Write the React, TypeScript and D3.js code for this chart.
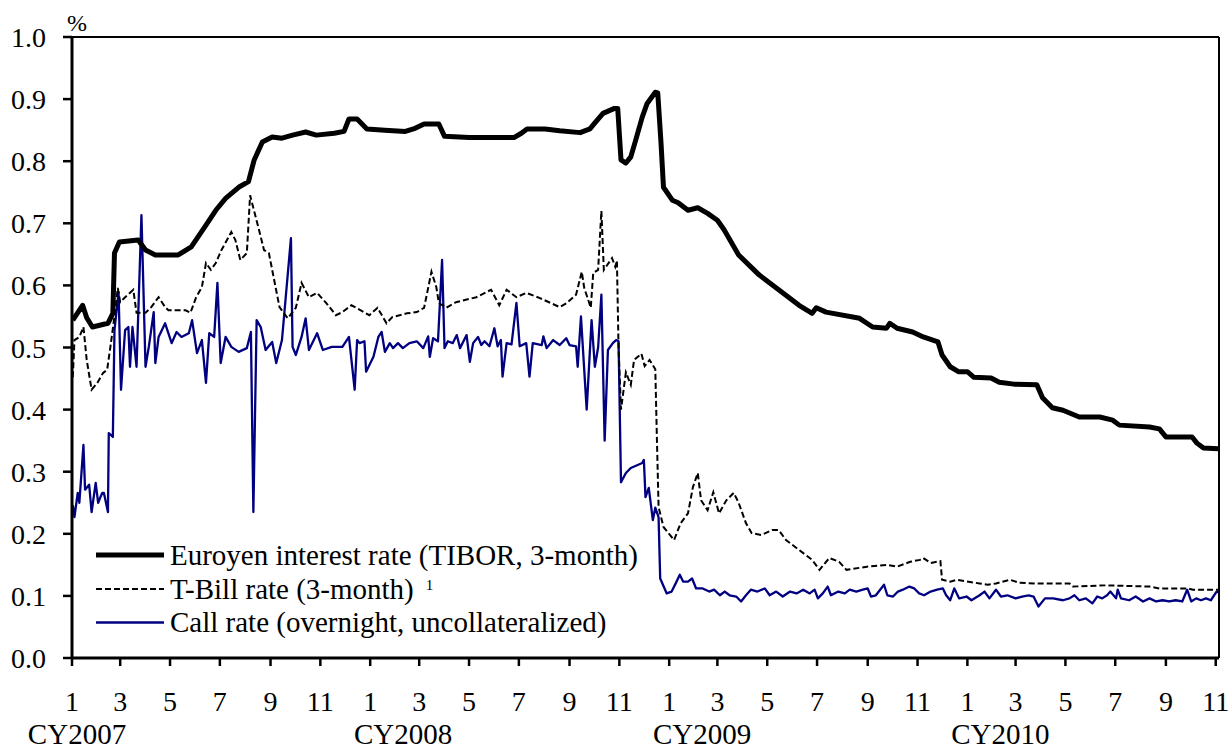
import * as d3 from "d3";

type Pt = [string, number];

// Euroyen TIBOR 3-month, %
const tibor: Pt[] = [
    ["2007-01-02", 0.544], ["2007-01-14", 0.568], ["2007-01-19", 0.548], ["2007-01-26", 0.533],
    ["2007-02-14", 0.539], ["2007-02-20", 0.555], ["2007-02-22", 0.652], ["2007-02-28", 0.67],
    ["2007-03-23", 0.673], ["2007-04-01", 0.657], ["2007-04-13", 0.649], ["2007-05-11", 0.649],
    ["2007-05-27", 0.662], ["2007-06-14", 0.697], ["2007-06-26", 0.721], ["2007-07-08", 0.74],
    ["2007-07-24", 0.758], ["2007-08-05", 0.767], ["2007-08-12", 0.802], ["2007-08-22", 0.831],
    ["2007-09-03", 0.839], ["2007-09-15", 0.837], ["2007-09-28", 0.842], ["2007-10-14", 0.847],
    ["2007-10-27", 0.842], ["2007-11-18", 0.845], ["2007-11-30", 0.848], ["2007-12-06", 0.868],
    ["2007-12-16", 0.868], ["2007-12-28", 0.852], ["2008-01-19", 0.85], ["2008-02-13", 0.848],
    ["2008-02-25", 0.853], ["2008-03-07", 0.86], ["2008-03-25", 0.86], ["2008-04-01", 0.84],
    ["2008-05-01", 0.838], ["2008-06-25", 0.838], ["2008-07-04", 0.845], ["2008-07-11", 0.852],
    ["2008-08-02", 0.852], ["2008-08-20", 0.849], ["2008-09-14", 0.846], ["2008-09-26", 0.852],
    ["2008-10-01", 0.86], ["2008-10-12", 0.877], ["2008-10-26", 0.885], ["2008-10-30", 0.885],
    ["2008-11-03", 0.802], ["2008-11-09", 0.797], ["2008-11-15", 0.807], ["2008-11-21", 0.834],
    ["2008-11-29", 0.871], ["2008-12-05", 0.893], ["2008-12-15", 0.911], ["2008-12-18", 0.91],
    ["2008-12-22", 0.829], ["2008-12-25", 0.758], ["2009-01-05", 0.737], ["2009-01-12", 0.733],
    ["2009-01-24", 0.721], ["2009-02-05", 0.725], ["2009-02-17", 0.716], ["2009-03-01", 0.705],
    ["2009-03-09", 0.69], ["2009-03-27", 0.649], ["2009-04-21", 0.617], ["2009-05-15", 0.593],
    ["2009-06-09", 0.568], ["2009-06-25", 0.555], ["2009-06-30", 0.564], ["2009-07-12", 0.557],
    ["2009-08-22", 0.547], ["2009-09-07", 0.533], ["2009-09-24", 0.531], ["2009-09-28", 0.539],
    ["2009-10-07", 0.531], ["2009-10-26", 0.525], ["2009-11-08", 0.517], ["2009-11-26", 0.509],
    ["2009-12-01", 0.488], ["2009-12-11", 0.469], ["2009-12-21", 0.461], ["2010-01-01", 0.461],
    ["2010-01-09", 0.452], ["2010-01-30", 0.451], ["2010-02-09", 0.444], ["2010-02-27", 0.441],
    ["2010-03-27", 0.44], ["2010-04-03", 0.419], ["2010-04-15", 0.403], ["2010-04-28", 0.399],
    ["2010-05-18", 0.388], ["2010-06-12", 0.388], ["2010-06-28", 0.383], ["2010-07-06", 0.375],
    ["2010-08-12", 0.372], ["2010-08-24", 0.369], ["2010-09-01", 0.356], ["2010-10-03", 0.356],
    ["2010-10-09", 0.346], ["2010-10-17", 0.338], ["2010-11-04", 0.337],
];

// T-Bill 3-month, %
const tbill: Pt[] = [
    ["2007-01-02", 0.452], ["2007-01-04", 0.512], ["2007-01-10", 0.517], ["2007-01-15", 0.533],
    ["2007-01-19", 0.48], ["2007-01-25", 0.432], ["2007-02-01", 0.443], ["2007-02-08", 0.459],
    ["2007-02-13", 0.464], ["2007-02-17", 0.501], ["2007-02-23", 0.56], ["2007-02-26", 0.596],
    ["2007-03-01", 0.573], ["2007-03-07", 0.581], ["2007-03-17", 0.593], ["2007-03-21", 0.556],
    ["2007-04-01", 0.556], ["2007-04-08", 0.565], ["2007-04-17", 0.581], ["2007-04-25", 0.565],
    ["2007-04-29", 0.56], ["2007-05-20", 0.56], ["2007-05-26", 0.556], ["2007-06-02", 0.581],
    ["2007-06-09", 0.597], ["2007-06-14", 0.636], ["2007-06-20", 0.625], ["2007-06-26", 0.636],
    ["2007-07-03", 0.657], ["2007-07-15", 0.686], ["2007-07-20", 0.673], ["2007-07-26", 0.641],
    ["2007-08-03", 0.652], ["2007-08-07", 0.745], ["2007-08-18", 0.689], ["2007-08-24", 0.657],
    ["2007-08-30", 0.652], ["2007-09-12", 0.565], ["2007-09-22", 0.547], ["2007-10-02", 0.564],
    ["2007-10-09", 0.604], ["2007-10-18", 0.581], ["2007-10-28", 0.588], ["2007-11-08", 0.572],
    ["2007-11-20", 0.552], ["2007-11-28", 0.557], ["2007-12-09", 0.568], ["2007-12-15", 0.564],
    ["2007-12-31", 0.552], ["2008-01-10", 0.564], ["2008-01-21", 0.539], ["2008-01-28", 0.549],
    ["2008-02-15", 0.555], ["2008-02-27", 0.557], ["2008-03-07", 0.564], ["2008-03-16", 0.622],
    ["2008-03-22", 0.597], ["2008-03-25", 0.572], ["2008-04-03", 0.564], ["2008-04-15", 0.573],
    ["2008-05-10", 0.581], ["2008-05-28", 0.593], ["2008-06-07", 0.568], ["2008-06-16", 0.593],
    ["2008-06-28", 0.581], ["2008-07-10", 0.588], ["2008-07-26", 0.58], ["2008-08-20", 0.565],
    ["2008-08-28", 0.571], ["2008-09-09", 0.585], ["2008-09-16", 0.622], ["2008-09-19", 0.596],
    ["2008-09-27", 0.564], ["2008-09-30", 0.62], ["2008-10-06", 0.625], ["2008-10-10", 0.72],
    ["2008-10-13", 0.625], ["2008-10-23", 0.644], ["2008-10-27", 0.63], ["2008-10-29", 0.64],
    ["2008-10-31", 0.5], ["2008-11-03", 0.4], ["2008-11-09", 0.46], ["2008-11-15", 0.44],
    ["2008-11-19", 0.48], ["2008-11-28", 0.49], ["2008-12-02", 0.47], ["2008-12-08", 0.48],
    ["2008-12-15", 0.465], ["2008-12-17", 0.351], ["2008-12-19", 0.243], ["2008-12-25", 0.211],
    ["2009-01-07", 0.19], ["2009-01-15", 0.217], ["2009-01-24", 0.233], ["2009-01-30", 0.275],
    ["2009-02-05", 0.298], ["2009-02-09", 0.254], ["2009-02-17", 0.238], ["2009-02-24", 0.267],
    ["2009-03-03", 0.233], ["2009-03-12", 0.254], ["2009-03-21", 0.266], ["2009-03-27", 0.25],
    ["2009-04-05", 0.217], ["2009-04-12", 0.201], ["2009-04-24", 0.198], ["2009-05-07", 0.206],
    ["2009-05-15", 0.206], ["2009-05-24", 0.19], ["2009-06-09", 0.174], ["2009-06-25", 0.158],
    ["2009-07-04", 0.142], ["2009-07-16", 0.161], ["2009-07-28", 0.155], ["2009-08-06", 0.142],
    ["2009-08-31", 0.147], ["2009-09-24", 0.15], ["2009-10-07", 0.147], ["2009-10-23", 0.155],
    ["2009-11-04", 0.158], ["2009-11-08", 0.161], ["2009-11-17", 0.153], ["2009-11-29", 0.156],
    ["2009-12-01", 0.126], ["2009-12-11", 0.123], ["2009-12-19", 0.126], ["2010-01-16", 0.12],
    ["2010-01-26", 0.118], ["2010-02-05", 0.12], ["2010-02-22", 0.126], ["2010-03-06", 0.121],
    ["2010-03-25", 0.12], ["2010-05-06", 0.12], ["2010-05-10", 0.115], ["2010-06-20", 0.117],
    ["2010-08-12", 0.115], ["2010-08-24", 0.112], ["2010-09-28", 0.112], ["2010-10-04", 0.11],
    ["2010-11-04", 0.11],
];

// Call rate, overnight uncollateralized, %
const callRate: Pt[] = [
    ["2007-01-02", 0.246], ["2007-01-04", 0.227], ["2007-01-08", 0.266], ["2007-01-10", 0.25],
    ["2007-01-15", 0.343], ["2007-01-17", 0.271], ["2007-01-22", 0.279], ["2007-01-25", 0.235],
    ["2007-01-30", 0.282], ["2007-02-02", 0.25], ["2007-02-07", 0.266], ["2007-02-09", 0.266],
    ["2007-02-14", 0.235], ["2007-02-15", 0.362], ["2007-02-20", 0.356], ["2007-02-22", 0.528],
    ["2007-02-27", 0.589], ["2007-03-02", 0.432], ["2007-03-07", 0.528], ["2007-03-11", 0.533],
    ["2007-03-13", 0.469], ["2007-03-16", 0.533], ["2007-03-21", 0.469], ["2007-03-27", 0.713],
    ["2007-04-01", 0.469], ["2007-04-05", 0.501], ["2007-04-11", 0.557], ["2007-04-13", 0.475],
    ["2007-04-17", 0.517], ["2007-04-25", 0.539], ["2007-05-03", 0.507], ["2007-05-09", 0.525],
    ["2007-05-15", 0.517], ["2007-05-24", 0.523], ["2007-05-28", 0.544], ["2007-06-03", 0.491],
    ["2007-06-09", 0.512], ["2007-06-14", 0.443], ["2007-06-18", 0.523], ["2007-06-24", 0.517],
    ["2007-06-28", 0.604], ["2007-07-02", 0.475], ["2007-07-08", 0.517], ["2007-07-15", 0.501],
    ["2007-07-24", 0.493], ["2007-08-03", 0.499], ["2007-08-08", 0.525], ["2007-08-11", 0.235],
    ["2007-08-15", 0.544], ["2007-08-20", 0.533], ["2007-08-26", 0.496], ["2007-09-03", 0.509],
    ["2007-09-08", 0.475], ["2007-09-15", 0.512], ["2007-09-26", 0.676], ["2007-09-28", 0.501],
    ["2007-10-02", 0.488], ["2007-10-09", 0.517], ["2007-10-14", 0.547], ["2007-10-18", 0.496],
    ["2007-10-28", 0.523], ["2007-11-04", 0.496], ["2007-11-15", 0.501], ["2007-11-28", 0.501],
    ["2007-12-06", 0.517], ["2007-12-13", 0.432], ["2007-12-16", 0.512], ["2007-12-19", 0.507],
    ["2007-12-25", 0.51], ["2007-12-27", 0.461], ["2008-01-05", 0.485], ["2008-01-11", 0.517],
    ["2008-01-15", 0.525], ["2008-01-19", 0.493], ["2008-01-25", 0.507], ["2008-01-29", 0.499],
    ["2008-02-04", 0.507], ["2008-02-10", 0.499], ["2008-02-18", 0.507], ["2008-02-27", 0.51],
    ["2008-03-06", 0.499], ["2008-03-12", 0.518], ["2008-03-14", 0.485], ["2008-03-18", 0.515],
    ["2008-03-24", 0.51], ["2008-03-29", 0.641], ["2008-04-01", 0.499], ["2008-04-05", 0.51],
    ["2008-04-11", 0.507], ["2008-04-16", 0.52], ["2008-04-20", 0.499], ["2008-04-28", 0.52],
    ["2008-05-02", 0.477], ["2008-05-06", 0.507], ["2008-05-12", 0.517], ["2008-05-16", 0.504],
    ["2008-05-20", 0.51], ["2008-05-26", 0.502], ["2008-06-01", 0.531], ["2008-06-05", 0.502],
    ["2008-06-09", 0.512], ["2008-06-11", 0.453], ["2008-06-16", 0.507], ["2008-06-22", 0.505],
    ["2008-06-28", 0.572], ["2008-07-02", 0.502], ["2008-07-10", 0.507], ["2008-07-14", 0.453],
    ["2008-07-18", 0.507], ["2008-07-29", 0.504], ["2008-07-31", 0.518], ["2008-08-04", 0.499],
    ["2008-08-12", 0.512], ["2008-08-20", 0.504], ["2008-08-28", 0.515], ["2008-09-01", 0.504],
    ["2008-09-09", 0.502], ["2008-09-11", 0.469], ["2008-09-15", 0.55], ["2008-09-22", 0.4],
    ["2008-09-28", 0.544], ["2008-10-02", 0.469], ["2008-10-06", 0.5], ["2008-10-10", 0.585],
    ["2008-10-14", 0.35], ["2008-10-18", 0.496], ["2008-10-24", 0.507], ["2008-10-28", 0.512],
    ["2008-10-31", 0.51], ["2008-11-03", 0.283], ["2008-11-09", 0.298], ["2008-11-15", 0.306],
    ["2008-11-29", 0.314], ["2008-12-01", 0.319], ["2008-12-03", 0.259], ["2008-12-07", 0.274],
    ["2008-12-12", 0.222], ["2008-12-15", 0.242], ["2008-12-19", 0.227], ["2008-12-21", 0.128],
    ["2008-12-29", 0.104], ["2009-01-04", 0.107], ["2009-01-10", 0.123], ["2009-01-14", 0.134],
    ["2009-01-18", 0.123], ["2009-01-24", 0.123], ["2009-01-29", 0.128], ["2009-02-03", 0.112],
    ["2009-02-11", 0.112], ["2009-02-19", 0.107], ["2009-02-25", 0.11], ["2009-03-04", 0.101],
    ["2009-03-10", 0.107], ["2009-03-16", 0.101], ["2009-03-24", 0.099], ["2009-03-30", 0.091],
    ["2009-04-05", 0.101], ["2009-04-11", 0.11], ["2009-04-19", 0.107], ["2009-04-28", 0.112],
    ["2009-05-04", 0.101], ["2009-05-12", 0.107], ["2009-05-20", 0.099], ["2009-05-29", 0.107],
    ["2009-06-06", 0.104], ["2009-06-14", 0.11], ["2009-06-22", 0.104], ["2009-06-28", 0.11],
    ["2009-07-02", 0.096], ["2009-07-08", 0.104], ["2009-07-14", 0.115], ["2009-07-18", 0.101],
    ["2009-07-27", 0.107], ["2009-08-04", 0.104], ["2009-08-10", 0.11], ["2009-08-18", 0.107],
    ["2009-08-26", 0.11], ["2009-09-01", 0.112], ["2009-09-05", 0.099], ["2009-09-11", 0.101],
    ["2009-09-21", 0.118], ["2009-09-25", 0.101], ["2009-10-02", 0.099], ["2009-10-08", 0.107],
    ["2009-10-14", 0.11], ["2009-10-22", 0.115], ["2009-10-28", 0.112], ["2009-11-03", 0.104],
    ["2009-11-09", 0.101], ["2009-11-17", 0.107], ["2009-11-25", 0.11], ["2009-12-02", 0.112],
    ["2009-12-06", 0.101], ["2009-12-11", 0.093], ["2009-12-16", 0.112], ["2009-12-22", 0.096],
    ["2009-12-31", 0.099], ["2010-01-06", 0.093], ["2010-01-16", 0.101], ["2010-01-22", 0.107],
    ["2010-01-28", 0.096], ["2010-02-05", 0.11], ["2010-02-11", 0.099], ["2010-02-19", 0.101],
    ["2010-03-01", 0.096], ["2010-03-09", 0.099], ["2010-03-17", 0.101], ["2010-03-23", 0.099],
    ["2010-03-29", 0.083], ["2010-04-06", 0.096], ["2010-04-16", 0.096], ["2010-04-28", 0.093],
    ["2010-05-06", 0.096], ["2010-05-12", 0.101], ["2010-05-18", 0.093], ["2010-05-26", 0.096],
    ["2010-06-03", 0.088], ["2010-06-09", 0.099], ["2010-06-15", 0.096], ["2010-06-21", 0.101],
    ["2010-06-25", 0.107], ["2010-07-02", 0.096], ["2010-07-04", 0.11], ["2010-07-08", 0.096],
    ["2010-07-18", 0.093], ["2010-07-26", 0.099], ["2010-08-04", 0.091], ["2010-08-12", 0.096],
    ["2010-08-20", 0.091], ["2010-08-28", 0.093], ["2010-09-05", 0.091], ["2010-09-13", 0.093],
    ["2010-09-21", 0.091], ["2010-09-27", 0.11], ["2010-10-02", 0.091], ["2010-10-08", 0.096],
    ["2010-10-14", 0.093], ["2010-10-20", 0.096], ["2010-10-26", 0.093], ["2010-11-02", 0.107],
    ["2010-11-04", 0.106],
];

const yTicks = [0, 0.1, 0.2, 0.3, 0.4, 0.5, 0.6, 0.7, 0.8, 0.9, 1.0];
const years = [2007, 2008, 2009, 2010];
const legendLabels = [
    "Euroyen interest rate (TIBOR, 3-month)",
    "T-Bill rate (3-month)",
    "Call rate (overnight, uncollateralized)",
];

const W = 1230;
const H = 749;
const left = 72;
const right = 1219;
const top = 37;
const bottom = 658;
const font = "'Liberation Serif', 'Times New Roman', serif";
const navy = "#000080";

const parse = d3.timeParse("%Y-%m-%d");

export default function App() {
    const x = d3.scaleTime()
        .domain([new Date(2007, 0, 1), new Date(2010, 10, 5)])
        .range([left, right]);
    const y = d3.scaleLinear().domain([0, 1]).range([bottom, top]);
    const line = d3.line<Pt>()
        .x(d => x(parse(d[0]) as Date))
        .y(d => y(d[1]));
    const monthTicks = d3.timeMonth.every(2)!.range(new Date(2007, 0, 1), new Date(2010, 10, 2));

    const legendY = [555, 589, 622.5];
    const textStyle = {fontFamily: font};

    return (
        <svg width={W} height={H} style={{position: "absolute", left: 0, top: 0, background: "#fff", fontFamily: font}}>
            <rect x={0} y={0} width={W} height={H} fill="#fff"/>
            {/* series */}
            <path d={line(callRate) ?? ""} fill="none" stroke={navy} strokeWidth={2.3} strokeLinejoin="round"/>
            <path d={line(tbill) ?? ""} fill="none" stroke="#000" strokeWidth={2} strokeDasharray="6,3"/>
            <path d={line(tibor) ?? ""} fill="none" stroke="#000" strokeWidth={5} strokeLinejoin="round"/>

            {/* frame */}
            <line x1={left} x2={right} y1={top} y2={top} stroke="#000" strokeWidth={2}/>
            <line x1={right} x2={right} y1={top} y2={bottom} stroke="#000" strokeWidth={2}/>
            <line x1={left} x2={left} y1={top - 1} y2={bottom} stroke="#000" strokeWidth={3}/>
            <line x1={left} x2={right} y1={bottom} y2={bottom} stroke="#000" strokeWidth={3}/>

            {/* y axis */}
            {yTicks.map(t => (
                <g key={t}>
                    <line x1={left - 9} x2={left} y1={y(t)} y2={y(t)} stroke="#000" strokeWidth={2.5}/>
                    <text x={46} y={y(t) + 10} fontSize={28} textAnchor="end" style={textStyle}>{t.toFixed(1)}</text>
                </g>
            ))}
            <text x={67} y={31} fontSize={24} style={textStyle}>%</text>

            {/* x axis */}
            {monthTicks.map((d, i) => (
                <g key={i}>
                    <line x1={x(d)} x2={x(d)} y1={bottom} y2={bottom + 8} stroke="#000" strokeWidth={2.5}/>
                    <text x={x(d)} y={711} fontSize={28} textAnchor="middle" style={textStyle}>{d.getMonth() + 1}</text>
                </g>
            ))}
            {years.map((yr, i) => (
                <text key={yr} x={i === 0 ? 77 : x(new Date(yr, 0, 1)) + 33} y={744} fontSize={29}
                      textAnchor="middle" style={textStyle}>{"CY" + yr}</text>
            ))}

            {/* legend */}
            <line x1={96} x2={164} y1={legendY[0]} y2={legendY[0]} stroke="#000" strokeWidth={5}/>
            <line x1={96} x2={164} y1={legendY[1]} y2={legendY[1]} stroke="#000" strokeWidth={2} strokeDasharray="6,3"/>
            <line x1={96} x2={164} y1={legendY[2]} y2={legendY[2]} stroke={navy} strokeWidth={2.3}/>
            {legendLabels.map((l, i) => (
                <text key={i} x={170} y={legendY[i] + 9.5} fontSize={29} style={textStyle}>
                    {l}
                    {i === 1 ? <tspan dx={12} dy={-9} fontSize={15}>1</tspan> : null}
                </text>
            ))}
        </svg>
    );
}
